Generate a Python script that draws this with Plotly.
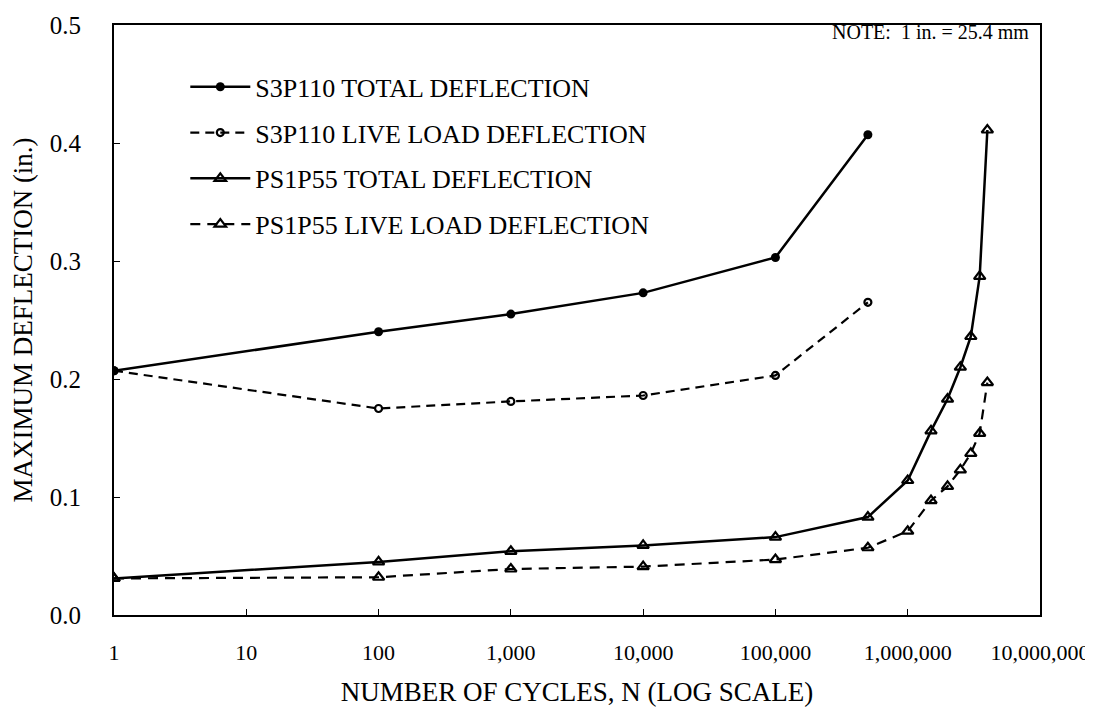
import plotly.graph_objects as go

cycles_s3 = [1, 100, 1000, 10000, 100000, 500000]
s3_total = [0.207, 0.240, 0.255, 0.273, 0.303, 0.407]
s3_live = [0.207, 0.175, 0.181, 0.186, 0.203, 0.265]

cycles_ps = [1, 100, 1000, 10000, 100000, 500000, 1000000, 1500000, 2000000,
             2500000, 3000000, 3500000, 4000000]
ps_total = [0.031, 0.045, 0.054, 0.059, 0.066, 0.083, 0.114, 0.156, 0.183,
            0.210, 0.236, 0.287, 0.411]
ps_live = [0.031, 0.032, 0.039, 0.041, 0.047, 0.057, 0.071, 0.097, 0.109,
           0.123, 0.137, 0.154, 0.197]

x_tickvals = [1, 10, 100, 1000, 10000, 100000, 1000000, 10000000]
x_ticktext = ["1", "10", "100", "1,000", "10,000", "100,000", "1,000,000", "10,000,000"]

names = ["S3P110 TOTAL DEFLECTION", "S3P110 LIVE LOAD DEFLECTION",
         "PS1P55 TOTAL DEFLECTION", "PS1P55 LIVE LOAD DEFLECTION"]

FONT = "Liberation Serif"
fig = go.Figure()
fig.add_trace(go.Scatter(x=cycles_s3, y=s3_total, name=names[0], mode="lines+markers",
                         legendgroup="a",
                         line=dict(color="black", width=2.5),
                         marker=dict(symbol="circle", size=9, color="black")))
fig.add_trace(go.Scatter(x=cycles_s3, y=s3_live, name=names[1], mode="lines+markers",
                         legendgroup="b",
                         line=dict(color="black", width=2.2, dash="9px,6px"),
                         marker=dict(symbol="circle-open", size=7, color="black",
                                     line=dict(width=2.2, color="black"))))
fig.add_trace(go.Scatter(x=cycles_ps, y=ps_total, name=names[2], mode="lines+markers",
                         legendgroup="c",
                         line=dict(color="black", width=2.5),
                         marker=dict(symbol="triangle-up-open", size=10, color="black",
                                     line=dict(width=2.2, color="black"))))
fig.add_trace(go.Scatter(x=cycles_ps, y=ps_live, name=names[3], mode="lines+markers",
                         legendgroup="d",
                         line=dict(color="black", width=2.2, dash="10px,7px"),
                         marker=dict(symbol="triangle-up-open", size=10, color="black",
                                     line=dict(width=2.2, color="black"))))

fig.update_layout(
    width=1093, height=707,
    margin=dict(l=106, r=61, t=17, b=100),
    paper_bgcolor="white", plot_bgcolor="white",
    font=dict(family=FONT, size=23, color="black"),
    legend=dict(x=0.077, y=0.935, xanchor="left", yanchor="top",
                bgcolor="rgba(0,0,0,0)", font=dict(family=FONT, size=26),
                tracegroupgap=9, itemwidth=60),
    xaxis=dict(type="log", range=[0, 7], tickvals=x_tickvals, ticktext=x_ticktext,
               showgrid=False, zeroline=False, showline=True, linecolor="black",
               linewidth=2, mirror=True, ticks="inside", ticklen=6, tickcolor="black",
               tickfont=dict(family=FONT, size=22), ticklabelstandoff=17,
               automargin=False,
               title=dict(text="NUMBER OF CYCLES, N (LOG SCALE)", standoff=18,
                          font=dict(family=FONT, size=27))),
    yaxis=dict(range=[0, 0.5], dtick=0.1, tickformat=".1f",
               showgrid=False, zeroline=False, showline=True, linecolor="black",
               linewidth=2, mirror=True, ticks="inside", ticklen=6, tickcolor="black",
               tickfont=dict(family=FONT, size=25), ticklabelstandoff=26,
               automargin=False,
               title=dict(text="MAXIMUM DEFLECTION (in.)", standoff=12,
                          font=dict(family=FONT, size=27))),
    showlegend=True,
)
fig.add_annotation(text="NOTE:  1 in. = 25.4 mm", xref="paper", yref="paper",
                   x=0.99, y=0.988, xanchor="right", yanchor="middle", showarrow=False,
                   font=dict(family=FONT, size=20, color="black"))

fig.write_html("out.html")
